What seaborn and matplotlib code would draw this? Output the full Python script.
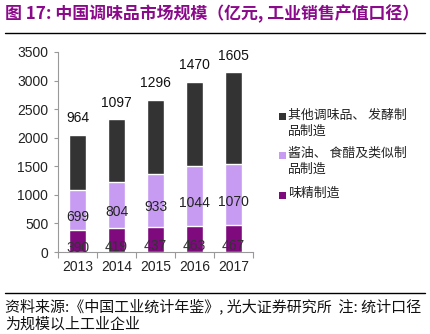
import matplotlib
matplotlib.use("Agg")
import matplotlib.pyplot as plt
import seaborn as sns
import pandas as pd
from matplotlib.patches import Rectangle
from matplotlib.lines import Line2D

years = ["2013", "2014", "2015", "2016", "2017"]
msg = [390, 419, 437, 463, 467]            # 味精制造
soy = [699, 804, 933, 1044, 1070]          # 酱油、食醋及类似制品制造
other = [964, 1097, 1296, 1470, 1605]      # 其他调味品、发酵制品制造
series_names = ["其他调味品、 发酵制\n品制造", "酱油、 食醋及类似制\n品制造", "味精制造"]

c_other = "#333333"
c_soy = "#C79BF2"
c_msg = "#7E0A7E"

sns.set_theme(style="white")
plt.rcParams["font.family"] = ["Liberation Sans", "Noto Sans CJK SC", "DejaVu Sans"]
cjk = ["Noto Sans CJK SC", "DejaVu Sans"]

df = pd.DataFrame({"year": years, "msg": msg, "soy": soy, "other": other})
df["mid_top"] = df["msg"] + df["soy"]
df["total"] = df["mid_top"] + df["other"]

W, H = 431, 334
fig = plt.figure(figsize=(W / 100, H / 100), dpi=100)
ax = fig.add_axes([58 / W, 1 - 252 / H, (253 - 58) / W, 200 / H])

# stacked bars drawn as overlapping cumulative layers
sns.barplot(data=df, x="year", y="total", color=c_other, width=0.42, saturation=1, ax=ax)
sns.barplot(data=df, x="year", y="mid_top", color=c_soy, width=0.42, saturation=1, ax=ax)
sns.barplot(data=df, x="year", y="msg", color=c_msg, width=0.42, saturation=1, ax=ax)

ax.set_xlim(-0.5, 4.5)
ax.set_ylim(0, 3500)
ax.set_yticks(range(0, 3501, 500))
ax.set_xlabel("")
ax.set_ylabel("")
for s in ["top", "right"]:
    ax.spines[s].set_visible(False)
for s in ["left", "bottom"]:
    ax.spines[s].set_color("#999999")
    ax.spines[s].set_linewidth(0.8)
ax.tick_params(axis="both", labelsize=10, colors="#222222")
ax.tick_params(axis="x", length=0, pad=6)
ax.tick_params(axis="y", length=3, width=0.8, color="#999999", direction="out", left=True, pad=4)
ax.set_xticks([i - 0.5 for i in range(6)], minor=True)
ax.tick_params(axis="x", which="minor", length=4, width=0.8, color="#999999", direction="out", bottom=True)

lab_fs = 10
for i in range(len(years)):
    ax.annotate(str(msg[i]), (i, msg[i] / 2), xytext=(0, -5), textcoords="offset points",
                ha="center", va="center", fontsize=lab_fs, color="#333333")
    ax.annotate(str(soy[i]), (i, msg[i] + soy[i] / 2), xytext=(0, -5), textcoords="offset points",
                ha="center", va="center", fontsize=lab_fs, color="#222222")
    ax.annotate(str(other[i]), (i, df["total"][i]), xytext=(0, 7), textcoords="offset points",
                ha="center", va="bottom", fontsize=lab_fs, color="#111111")

# legend: square swatch aligned with the first line of each entry
legend_rows = [(117, c_other, series_names[0]), (155, c_soy, series_names[1]), (195, c_msg, series_names[2])]
for y_px, col, name in legend_rows:
    fig.add_artist(Rectangle((279 / W, 1 - (y_px + 3.5) / H), 7 / W, 7 / H,
                             transform=fig.transFigure, facecolor=col, edgecolor="none"))
    fig.text(288 / W, 1 - (y_px - 8) / H, name, fontsize=9.3, color="#222222",
             va="top", ha="left", family=cjk, linespacing=1.25)

# header and footer
fig.text(5 / W, 1 - 14 / H, "图 17: 中国调味品市场规模（亿元, 工业销售产值口径）",
         fontsize=12.2, fontweight="bold", color="#8B0A8B", va="center", ha="left", family=cjk)
fig.add_artist(Line2D([5 / W, 425 / W], [1 - 33 / H] * 2, color="black", lw=1))
fig.add_artist(Line2D([5 / W, 425 / W], [1 - 293 / H] * 2, color="black", lw=1))
fig.text(5 / W, 1 - 306 / H, "资料来源:《中国工业统计年鉴》, 光大证券研究所  注: 统计口径",
         fontsize=10.8, color="#111111", va="center", ha="left", family=cjk)
fig.text(5 / W, 1 - 325 / H, "为规模以上工业企业",
         fontsize=10.8, color="#111111", va="center", ha="left", family=cjk)

fig.savefig("out.png", dpi=100)
